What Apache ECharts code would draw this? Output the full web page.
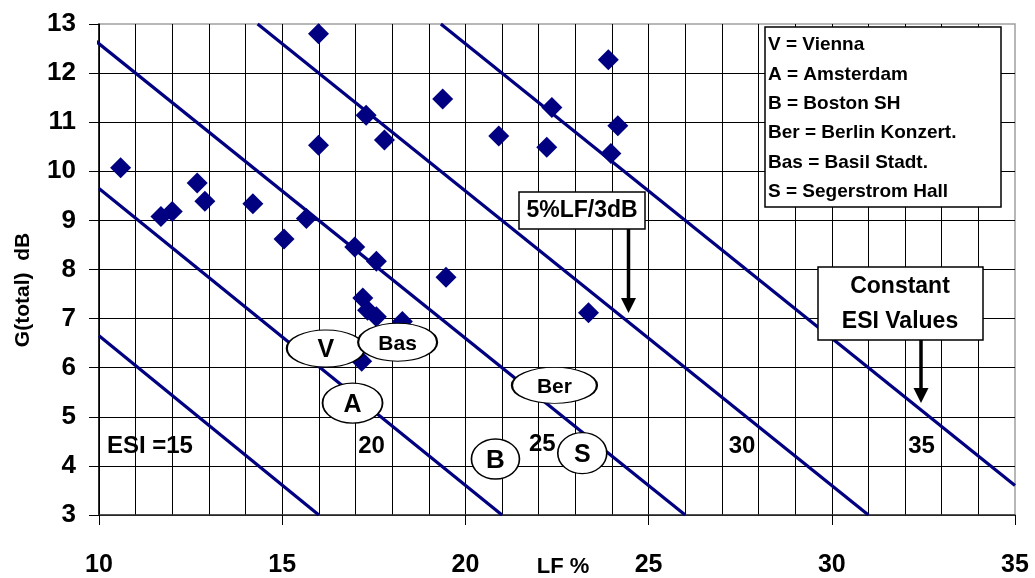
<!DOCTYPE html>
<html>
<head>
<meta charset="utf-8">
<script src="https://cdn.jsdelivr.net/npm/echarts@6/dist/echarts.min.js"></script>
<style>
html,body{margin:0;padding:0;background:#fff;}
#c{width:1035px;height:578px;}
</style>
</head>
<body>
<div id="c"></div>
<script>
// ---- data ----
const xTicks = [10, 15, 20, 25, 30, 35];
const yTicks = [3, 4, 5, 6, 7, 8, 9, 10, 11, 12, 13];

const hallPoints = [
  [10.59, 10.07], [11.69, 9.08], [12.0, 9.18], [12.68, 9.76], [12.89, 9.39],
  [14.2, 9.34], [15.05, 8.62], [15.66, 9.04], [15.99, 12.8], [15.99, 10.53],
  [23.9, 12.27], [19.38, 11.47], [17.29, 11.14], [17.79, 10.64], [22.36, 11.30],
  [24.16, 10.93], [20.91, 10.72], [22.22, 10.49], [23.97, 10.36],
  [16.98, 8.46], [17.57, 8.17], [19.47, 7.84], [17.2, 7.42], [17.33, 7.17],
  [17.57, 7.04], [18.28, 6.94], [17.17, 6.13], [23.36, 7.12]
];

const esi15 = [[10, 6.65], [16, 3]];
const esi20 = [[10, 9.65], [21, 3]];
const esi25 = [[9.73, 12.76], [26, 3]];
const esi30 = [[14.33, 13], [31, 3]];
const esi35 = [[19.33, 13], [35, 3.6]];

const esiLabels = [
  ['ESI =15', 11.39, 4.40],
  ['20', 17.44, 4.40],
  ['25', 22.10, 4.44],
  ['30', 27.55, 4.40],
  ['35', 32.45, 4.40]
];

// hall tags: text, LF, G, ellipse width, height, font size
const hallTags = [
  ['V', 16.19, 6.39, 78, 37, 25],
  ['Bas', 18.15, 6.52, 79, 38, 21],
  ['A', 16.92, 5.28, 60, 40, 25],
  ['Ber', 22.43, 5.64, 85, 36, 21],
  ['B', 20.82, 4.14, 48, 40, 26],
  ['S', 23.19, 4.26, 49, 41, 25]
];

const legendLines = [
  'V = Vienna',
  'A = Amsterdam',
  'B = Boston SH',
  'Ber = Berlin Konzert.',
  'Bas = Basil Stadt.',
  'S = Segerstrom Hall'
];

const navy = '#000080';
const FONT = '"Liberation Sans", Arial, sans-serif';

const chart = echarts.init(document.getElementById('c'));

function esiLine(data) {
  return {
    type: 'line', data: data, symbol: 'none', clip: false, z: 3,
    lineStyle: { color: navy, width: 3.2, opacity: 1 }, silent: true, animation: false
  };
}

const ZG = 50;
const legendChildren = [{
  type: 'rect', z: ZG, shape: { x: 765, y: 27, width: 236, height: 180 },
  style: { fill: '#fff', stroke: '#000', lineWidth: 1.5 }
}];
legendLines.forEach((t, i) => {
  legendChildren.push({
    type: 'text', z: ZG + 1, x: 768, y: 45 + i * 29.4,
    style: { text: t, fill: '#000', font: 'bold 19px ' + FONT, textAlign: 'left', textVerticalAlign: 'middle' }
  });
});

const option = {
  animation: false,
  backgroundColor: '#fff',
  grid: { left: 99, right: 20, top: 24, bottom: 62, show: true, borderColor: '#a0a0a0', borderWidth: 1.5, backgroundColor: 'transparent' },
  xAxis: {
    type: 'value', min: 10, max: 35, interval: 5,
    axisLine: { show: true, onZero: false, lineStyle: { color: '#333', width: 1.5 } },
    axisTick: { show: true, length: 10, lineStyle: { color: '#000', width: 1 } },
    axisLabel: { margin: 38, color: '#000', fontSize: 25, fontWeight: 'bold', fontFamily: FONT,
      formatter: v => (xTicks.indexOf(v) >= 0 ? String(v) : '') },
    splitLine: { show: true, showMaxLine: false, lineStyle: { color: '#000', width: 1 } },
    minorTick: { show: false, splitNumber: 5 },
    minorSplitLine: { show: true, lineStyle: { color: '#000', width: 1 } }
  },
  yAxis: {
    type: 'value', min: 3, max: 13, interval: 1,
    axisLine: { show: true, onZero: false, lineStyle: { color: '#000', width: 1.5 } },
    axisTick: { show: true, length: 10, lineStyle: { color: '#000', width: 1 } },
    axisLabel: { margin: 23, color: '#000', fontSize: 26, fontWeight: 'bold', fontFamily: FONT,
      formatter: v => (yTicks.indexOf(v) >= 0 ? String(v) : '') },
    splitLine: { show: true, showMaxLine: false, lineStyle: { color: '#000', width: 1 } }
  },
  series: [
    {
      type: 'scatter', data: hallPoints, symbol: 'diamond', symbolSize: 21, z: 4,
      itemStyle: { color: navy, opacity: 1 }, silent: true
    },
    esiLine(esi15), esiLine(esi20), esiLine(esi25), esiLine(esi30), esiLine(esi35),
    {
      type: 'scatter', z: 6, silent: true, symbolSize: 1,
      itemStyle: { color: 'rgba(0,0,0,0)', opacity: 1 },
      data: esiLabels.map(d => ({ value: [d[1], d[2]], name: d[0] })),
      label: { show: true, position: 'inside', formatter: p => p.name, color: '#000',
        fontSize: 24, fontWeight: 'bold', fontFamily: FONT }
    },
    {
      type: 'scatter', z: 8, silent: true, symbol: 'circle',
      data: hallTags.map(d => ({
        value: [d[1], d[2]], name: d[0], symbolSize: [d[3], d[4]],
        label: { fontSize: d[5] }
      })),
      itemStyle: { color: '#fff', borderColor: '#000', borderWidth: 1.5, opacity: 1 },
      label: { show: true, position: 'inside', formatter: p => p.name, color: '#000',
        fontWeight: 'bold', fontFamily: FONT, offset: [0, 2] }
    }
  ],
  graphic: [
    {
      type: 'text', x: 23, y: 290, rotation: Math.PI / 2,
      style: { text: 'G(total)  dB', fill: '#000', font: 'bold 21px ' + FONT, textAlign: 'center', textVerticalAlign: 'middle' }
    },
    {
      type: 'text', x: 563, y: 567,
      style: { text: 'LF %', fill: '#000', font: 'bold 22px ' + FONT, textAlign: 'center', textVerticalAlign: 'middle' }
    },
    { type: 'group', children: legendChildren },
    // 5%LF/3dB callout
    {
      type: 'group', children: [
        { type: 'rect', z: ZG, shape: { x: 519, y: 192, width: 126, height: 37 }, style: { fill: '#fff', stroke: '#000', lineWidth: 1.5 } },
        { type: 'text', z: ZG + 1, x: 582, y: 211, style: { text: '5%LF/3dB', fill: '#000', font: 'bold 23px ' + FONT, textAlign: 'center', textVerticalAlign: 'middle' } },
        { type: 'line', z: ZG, shape: { x1: 628.5, y1: 229, x2: 628.5, y2: 300 }, style: { stroke: '#000', lineWidth: 3.5 } },
        { type: 'polygon', z: ZG, shape: { points: [[621, 298], [636, 298], [628.5, 313]] }, style: { fill: '#000' } }
      ]
    },
    // Constant ESI Values callout
    {
      type: 'group', children: [
        { type: 'rect', z: ZG, shape: { x: 818, y: 267, width: 165, height: 73 }, style: { fill: '#fff', stroke: '#000', lineWidth: 1.5 } },
        { type: 'text', z: ZG + 1, x: 900, y: 287, style: { text: 'Constant', fill: '#000', font: 'bold 23px ' + FONT, textAlign: 'center', textVerticalAlign: 'middle' } },
        { type: 'text', z: ZG + 1, x: 900, y: 322, style: { text: 'ESI Values', fill: '#000', font: 'bold 23px ' + FONT, textAlign: 'center', textVerticalAlign: 'middle' } },
        { type: 'line', z: ZG, shape: { x1: 921, y1: 340, x2: 921, y2: 390 }, style: { stroke: '#000', lineWidth: 3.5 } },
        { type: 'polygon', z: ZG, shape: { points: [[913.5, 388], [928.5, 388], [921, 403]] }, style: { fill: '#000' } }
      ]
    }
  ]
};
chart.setOption(option);
</script>
</body>
</html>
